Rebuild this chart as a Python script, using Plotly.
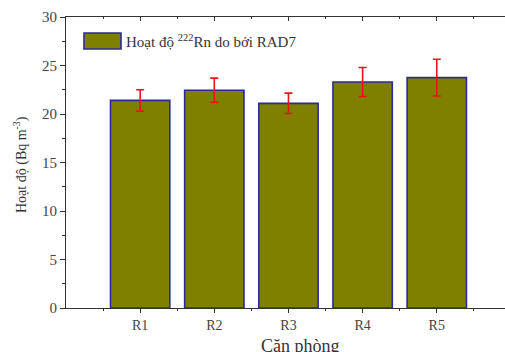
import plotly.graph_objects as go

rooms = ["R1", "R2", "R3", "R4", "R5"]
positions = [1, 2, 3, 4, 5]
activity = [21.4, 22.45, 21.1, 23.3, 23.75]
errors = [1.1, 1.25, 1.05, 1.5, 1.9]
y_ticks = [0, 5, 10, 15, 20, 25, 30]

serif = "Liberation Serif, Times New Roman, serif"
olive = "#808000"
navy = "#2a2a9a"

fig = go.Figure()
fig.add_trace(go.Bar(
    x=positions, y=activity, width=0.8,
    marker=dict(color=olive, line=dict(color=navy, width=1.6)),
    error_y=dict(type="data", array=errors, color="#e8141c", thickness=1.6, width=4),
    showlegend=False,
))
# invisible trace to activate the top axis
fig.add_trace(go.Scatter(x=[1], y=[0], xaxis="x2", mode="markers",
                         marker=dict(opacity=0), showlegend=False, hoverinfo="skip"))

xr = [0, 5.92]
fig.update_layout(
    width=505, height=352,
    margin=dict(l=66, r=0, t=17, b=44),
    plot_bgcolor="white", paper_bgcolor="white",
    font=dict(family=serif, color="#333"),
    xaxis=dict(range=xr, tickvals=positions, ticktext=rooms, ticks="outside",
               ticklen=4, tickwidth=1, tickcolor="#333", showline=True,
               linecolor="#333", linewidth=1.2, showgrid=False, zeroline=False,
               tickfont=dict(size=14, family=serif, color="#444"),
               minor=dict(tickvals=[0.5, 1.5, 2.5, 3.5, 4.5, 5.5], ticks="outside",
                          ticklen=2, tickcolor="#333")),
    xaxis2=dict(range=xr, overlaying="x", side="top", tickvals=positions,
                ticks="inside", ticklen=4, tickcolor="#333", showticklabels=False,
                showline=True, linecolor="#333", linewidth=1.2, showgrid=False,
                zeroline=False,
                minor=dict(tickvals=[0.5, 1.5, 2.5, 3.5, 4.5, 5.5], ticks="inside",
                           ticklen=2, tickcolor="#333")),
    yaxis=dict(range=[0, 30], tickvals=y_ticks, ticks="outside", ticklen=5,
               tickcolor="#333", showline=True, linecolor="#333", linewidth=1.2,
               showgrid=False, zeroline=False,
               tickfont=dict(size=15, family=serif, color="#444"),
               minor=dict(tickvals=[2.5, 7.5, 12.5, 17.5, 22.5, 27.5],
                          ticks="outside", ticklen=3, tickcolor="#333")),
)

# legend (drawn manually to match the wide swatch)
fig.add_shape(type="rect", xref="paper", yref="paper",
              x0=(84 - 66) / 439, x1=(121 - 66) / 439,
              y0=(308 - 49) / 291, y1=(308 - 33) / 291,
              fillcolor=olive, line=dict(color=navy, width=1.6))
fig.add_annotation(xref="paper", yref="paper", x=(124 - 66) / 439,
                   y=(308 - 41) / 291, xanchor="left", yanchor="middle",
                   showarrow=False,
                   text="Hoạt độ <sup>222</sup>Rn do bởi RAD7",
                   font=dict(size=15, family=serif, color="#333"))
# axis titles
fig.add_annotation(xref="paper", yref="paper", x=(300 - 66) / 439, y=-0.088,
                   xanchor="center", yanchor="top", showarrow=False,
                   text="Căn phòng", font=dict(size=18, family=serif, color="#333"))
fig.add_annotation(xref="paper", yref="paper", x=(20 - 66) / 439, y=(308 - 165) / 291,
                   xanchor="center", yanchor="middle", showarrow=False, textangle=-90,
                   text="Hoạt độ (Bq m<sup>-3</sup>)",
                   font=dict(size=14, family=serif, color="#333"))

fig.write_html("out.html")
